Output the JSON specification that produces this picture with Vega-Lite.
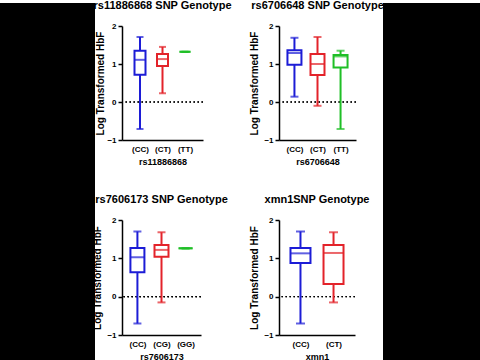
{
  "$schema": "https://vega.github.io/schema/vega-lite/v6.json",
  "background": "white",
  "padding": 0,
  "bounds": "flush",
  "align": "each",
  "columns": 5,
  "spacing": {"row": 0, "column": 27},
  "config": {
    "font": "Liberation Sans",
    "view": {"stroke": null},
    "axis": {"grid": false, "domainColor": "black", "domainWidth": 1.5, "tickColor": "black", "tickWidth": 1.5, "labelFont": "Liberation Sans", "labelFontWeight": "bold", "labelFontSize": 8, "labelColor": "black", "titleFont": "Liberation Sans", "titleFontWeight": "bold", "titleColor": "black"},
    "axisX": {"labelAngle": 0, "ticks": false, "labelPadding": 5, "titleFontSize": 9, "titlePadding": 4},
    "axisY": {"values": [-1, 0, 1, 2], "tickSize": 4, "labelPadding": 2, "titleFontSize": 10, "titlePadding": 4, "labelOverlap": false},
    "title": {"font": "Liberation Sans", "fontWeight": "bold", "fontSize": 11, "color": "black", "anchor": "middle"}
  },
  "datasets": {
    "boxes": [
      {"snp": "rs11886868", "genotype": "(CC)", "min": -0.71, "q1": 0.72, "median": 1.11, "q3": 1.35, "max": 1.71},
      {"snp": "rs11886868", "genotype": "(CT)", "min": 0.23, "q1": 0.95, "median": 1.13, "q3": 1.26, "max": 1.45},
      {"snp": "rs11886868", "genotype": "(TT)", "min": 1.32, "q1": 1.32, "median": 1.32, "q3": 1.32, "max": 1.32},
      {"snp": "rs6706648", "genotype": "(CC)", "min": 0.14, "q1": 0.98, "median": 1.29, "q3": 1.36, "max": 1.69},
      {"snp": "rs6706648", "genotype": "(CT)", "min": -0.1, "q1": 0.71, "median": 1.0, "q3": 1.26, "max": 1.71},
      {"snp": "rs6706648", "genotype": "(TT)", "min": -0.71, "q1": 0.91, "median": 1.2, "q3": 1.24, "max": 1.35},
      {"snp": "rs7606173", "genotype": "(CC)", "min": -0.7, "q1": 0.64, "median": 1.03, "q3": 1.27, "max": 1.7},
      {"snp": "rs7606173", "genotype": "(CG)", "min": -0.15, "q1": 1.04, "median": 1.22, "q3": 1.35, "max": 1.68},
      {"snp": "rs7606173", "genotype": "(GG)", "min": 1.26, "q1": 1.26, "median": 1.26, "q3": 1.26, "max": 1.26},
      {"snp": "xmn1", "genotype": "(CC)", "min": -0.7, "q1": 0.88, "median": 1.13, "q3": 1.27, "max": 1.7},
      {"snp": "xmn1", "genotype": "(CT)", "min": -0.15, "q1": 0.33, "median": 1.14, "q3": 1.35, "max": 1.68}
    ],
    "blank": [{"v": 0}]
  },
  "concat": [
    {"width": 95, "height": 23, "view": {"fill": "black", "stroke": null}, "data": {"name": "blank"}, "mark": {"type": "point", "opacity": 0}, "encoding": {}},
    {"width": 1, "height": 1, "data": {"name": "blank"}, "mark": {"type": "point", "opacity": 0}, "encoding": {}},
    {"width": 22, "height": 1, "data": {"name": "blank"}, "mark": {"type": "point", "opacity": 0}, "encoding": {}},
    {"width": 1, "height": 1, "data": {"name": "blank"}, "mark": {"type": "point", "opacity": 0}, "encoding": {}},
    {"width": 97, "height": 23, "view": {"fill": "black", "stroke": null}, "data": {"name": "blank"}, "mark": {"type": "point", "opacity": 0}, "encoding": {}},

    {"width": 95, "height": 194, "view": {"fill": "black", "stroke": null}, "data": {"name": "blank"}, "mark": {"type": "point", "opacity": 0}, "encoding": {}},
    {
      "width": 81, "height": 114,
      "title": {"text": "rs11886868 SNP Genotype", "offset": 11},
      "data": {"name": "boxes"},
      "transform": [{"filter": "datum.snp === 'rs11886868'"}],
      "encoding": {
        "color": {"field": "genotype", "type": "nominal", "scale": {"domain": ["(CC)", "(CT)", "(CG)", "(TT)", "(GG)"], "range": ["#1c1cd6", "#e3232a", "#e3232a", "#1fbf26", "#1fbf26"]}, "legend": null}
      },
      "layer": [
        {"mark": {"type": "rule", "strokeDash": [1.5, 2.5], "strokeWidth": 1.2}, "encoding": {"y": {"datum": 0, "type": "quantitative"}, "color": {"value": "black"}}},
        {"mark": {"type": "rule", "strokeWidth": 2}, "encoding": {"x": {"field": "genotype", "type": "nominal", "sort": null, "scale": {"type": "point", "padding": 0.8}, "axis": {"title": "rs11886868"}}, "y": {"field": "min", "type": "quantitative", "scale": {"domain": [-1, 2], "nice": false}, "axis": {"title": "Log Transformed HbF", "titlePadding": 1}}, "y2": {"field": "max"}}},
        {"mark": {"type": "tick", "size": 7, "thickness": 2}, "encoding": {"x": {"field": "genotype", "type": "nominal", "sort": null}, "y": {"field": "min", "type": "quantitative"}}},
        {"mark": {"type": "tick", "size": 7, "thickness": 2}, "encoding": {"x": {"field": "genotype", "type": "nominal", "sort": null}, "y": {"field": "max", "type": "quantitative"}}},
        {"mark": {"type": "bar", "size": 11, "fill": "white", "strokeWidth": 2, "fillOpacity": 1}, "encoding": {"x": {"field": "genotype", "type": "nominal", "sort": null}, "y": {"field": "q1", "type": "quantitative"}, "y2": {"field": "q3"}, "stroke": {"field": "genotype", "type": "nominal", "scale": {"domain": ["(CC)", "(CT)", "(CG)", "(TT)", "(GG)"], "range": ["#1c1cd6", "#e3232a", "#e3232a", "#1fbf26", "#1fbf26"]}, "legend": null}}},
        {"mark": {"type": "tick", "size": 11, "thickness": 2}, "encoding": {"x": {"field": "genotype", "type": "nominal", "sort": null}, "y": {"field": "median", "type": "quantitative"}}}
      ]
    },
    {"width": 22, "height": 1, "data": {"name": "blank"}, "mark": {"type": "point", "opacity": 0}, "encoding": {}},
    {
      "width": 77, "height": 114,
      "title": {"text": "rs6706648 SNP Genotype", "offset": 11},
      "data": {"name": "boxes"},
      "transform": [{"filter": "datum.snp === 'rs6706648'"}],
      "encoding": {
        "color": {"field": "genotype", "type": "nominal", "scale": {"domain": ["(CC)", "(CT)", "(CG)", "(TT)", "(GG)"], "range": ["#1c1cd6", "#e3232a", "#e3232a", "#1fbf26", "#1fbf26"]}, "legend": null}
      },
      "layer": [
        {"mark": {"type": "rule", "strokeDash": [1.5, 2.5], "strokeWidth": 1.2}, "encoding": {"y": {"datum": 0, "type": "quantitative"}, "color": {"value": "black"}}},
        {"mark": {"type": "rule", "strokeWidth": 2}, "encoding": {"x": {"field": "genotype", "type": "nominal", "sort": null, "scale": {"type": "point", "padding": 0.67}, "axis": {"title": "rs6706648"}}, "y": {"field": "min", "type": "quantitative", "scale": {"domain": [-1, 2], "nice": false}, "axis": {"title": "Log Transformed HbF"}}, "y2": {"field": "max"}}},
        {"mark": {"type": "tick", "size": 8, "thickness": 2}, "encoding": {"x": {"field": "genotype", "type": "nominal", "sort": null}, "y": {"field": "min", "type": "quantitative"}}},
        {"mark": {"type": "tick", "size": 8, "thickness": 2}, "encoding": {"x": {"field": "genotype", "type": "nominal", "sort": null}, "y": {"field": "max", "type": "quantitative"}}},
        {"mark": {"type": "bar", "size": 14, "fill": "white", "strokeWidth": 2, "fillOpacity": 1}, "encoding": {"x": {"field": "genotype", "type": "nominal", "sort": null}, "y": {"field": "q1", "type": "quantitative"}, "y2": {"field": "q3"}, "stroke": {"field": "genotype", "type": "nominal", "scale": {"domain": ["(CC)", "(CT)", "(CG)", "(TT)", "(GG)"], "range": ["#1c1cd6", "#e3232a", "#e3232a", "#1fbf26", "#1fbf26"]}, "legend": null}}},
        {"mark": {"type": "tick", "size": 14, "thickness": 2}, "encoding": {"x": {"field": "genotype", "type": "nominal", "sort": null}, "y": {"field": "median", "type": "quantitative"}}}
      ]
    },
    {"width": 97, "height": 194, "view": {"fill": "black", "stroke": null}, "data": {"name": "blank"}, "mark": {"type": "point", "opacity": 0}, "encoding": {}},

    {"width": 95, "height": 143, "view": {"fill": "black", "stroke": null}, "data": {"name": "blank"}, "mark": {"type": "point", "opacity": 0}, "encoding": {}},
    {
      "width": 79, "height": 115,
      "title": {"text": "rs7606173 SNP Genotype", "offset": 11},
      "data": {"name": "boxes"},
      "transform": [{"filter": "datum.snp === 'rs7606173'"}],
      "encoding": {
        "color": {"field": "genotype", "type": "nominal", "scale": {"domain": ["(CC)", "(CT)", "(CG)", "(TT)", "(GG)"], "range": ["#1c1cd6", "#e3232a", "#e3232a", "#1fbf26", "#1fbf26"]}, "legend": null}
      },
      "layer": [
        {"mark": {"type": "rule", "strokeDash": [1.5, 2.5], "strokeWidth": 1.2}, "encoding": {"y": {"datum": 0, "type": "quantitative"}, "color": {"value": "black"}}},
        {"mark": {"type": "rule", "strokeWidth": 2}, "encoding": {"x": {"field": "genotype", "type": "nominal", "sort": null, "scale": {"type": "point", "padding": 0.64}, "axis": {"title": "rs7606173"}}, "y": {"field": "min", "type": "quantitative", "scale": {"domain": [-1, 2], "nice": false}, "axis": {"title": "Log Transformed HbF"}}, "y2": {"field": "max"}}},
        {"mark": {"type": "tick", "size": 8, "thickness": 2}, "encoding": {"x": {"field": "genotype", "type": "nominal", "sort": null}, "y": {"field": "min", "type": "quantitative"}}},
        {"mark": {"type": "tick", "size": 8, "thickness": 2}, "encoding": {"x": {"field": "genotype", "type": "nominal", "sort": null}, "y": {"field": "max", "type": "quantitative"}}},
        {"mark": {"type": "bar", "size": 14, "fill": "white", "strokeWidth": 2, "fillOpacity": 1}, "encoding": {"x": {"field": "genotype", "type": "nominal", "sort": null}, "y": {"field": "q1", "type": "quantitative"}, "y2": {"field": "q3"}, "stroke": {"field": "genotype", "type": "nominal", "scale": {"domain": ["(CC)", "(CT)", "(CG)", "(TT)", "(GG)"], "range": ["#1c1cd6", "#e3232a", "#e3232a", "#1fbf26", "#1fbf26"]}, "legend": null}}},
        {"mark": {"type": "tick", "size": 14, "thickness": 2}, "encoding": {"x": {"field": "genotype", "type": "nominal", "sort": null}, "y": {"field": "median", "type": "quantitative"}}}
      ]
    },
    {"width": 22, "height": 1, "data": {"name": "blank"}, "mark": {"type": "point", "opacity": 0}, "encoding": {}},
    {
      "width": 76, "height": 115,
      "title": {"text": "xmn1SNP Genotype", "offset": 11},
      "data": {"name": "boxes"},
      "transform": [{"filter": "datum.snp === 'xmn1'"}],
      "encoding": {
        "color": {"field": "genotype", "type": "nominal", "scale": {"domain": ["(CC)", "(CT)", "(CG)", "(TT)", "(GG)"], "range": ["#1c1cd6", "#e3232a", "#e3232a", "#1fbf26", "#1fbf26"]}, "legend": null}
      },
      "layer": [
        {"mark": {"type": "rule", "strokeDash": [1.5, 2.5], "strokeWidth": 1.2}, "encoding": {"y": {"datum": 0, "type": "quantitative"}, "color": {"value": "black"}}},
        {"mark": {"type": "rule", "strokeWidth": 2}, "encoding": {"x": {"field": "genotype", "type": "nominal", "sort": null, "scale": {"type": "point", "padding": 0.65}, "axis": {"title": "xmn1"}}, "y": {"field": "min", "type": "quantitative", "scale": {"domain": [-1, 2], "nice": false}, "axis": {"title": "Log Transformed HbF"}}, "y2": {"field": "max"}}},
        {"mark": {"type": "tick", "size": 9, "thickness": 2}, "encoding": {"x": {"field": "genotype", "type": "nominal", "sort": null}, "y": {"field": "min", "type": "quantitative"}}},
        {"mark": {"type": "tick", "size": 9, "thickness": 2}, "encoding": {"x": {"field": "genotype", "type": "nominal", "sort": null}, "y": {"field": "max", "type": "quantitative"}}},
        {"mark": {"type": "bar", "size": 20, "fill": "white", "strokeWidth": 2, "fillOpacity": 1}, "encoding": {"x": {"field": "genotype", "type": "nominal", "sort": null}, "y": {"field": "q1", "type": "quantitative"}, "y2": {"field": "q3"}, "stroke": {"field": "genotype", "type": "nominal", "scale": {"domain": ["(CC)", "(CT)", "(CG)", "(TT)", "(GG)"], "range": ["#1c1cd6", "#e3232a", "#e3232a", "#1fbf26", "#1fbf26"]}, "legend": null}}},
        {"mark": {"type": "tick", "size": 20, "thickness": 2}, "encoding": {"x": {"field": "genotype", "type": "nominal", "sort": null}, "y": {"field": "median", "type": "quantitative"}}}
      ]
    },
    {"width": 97, "height": 143, "view": {"fill": "black", "stroke": null}, "data": {"name": "blank"}, "mark": {"type": "point", "opacity": 0}, "encoding": {}}
  ]
}
